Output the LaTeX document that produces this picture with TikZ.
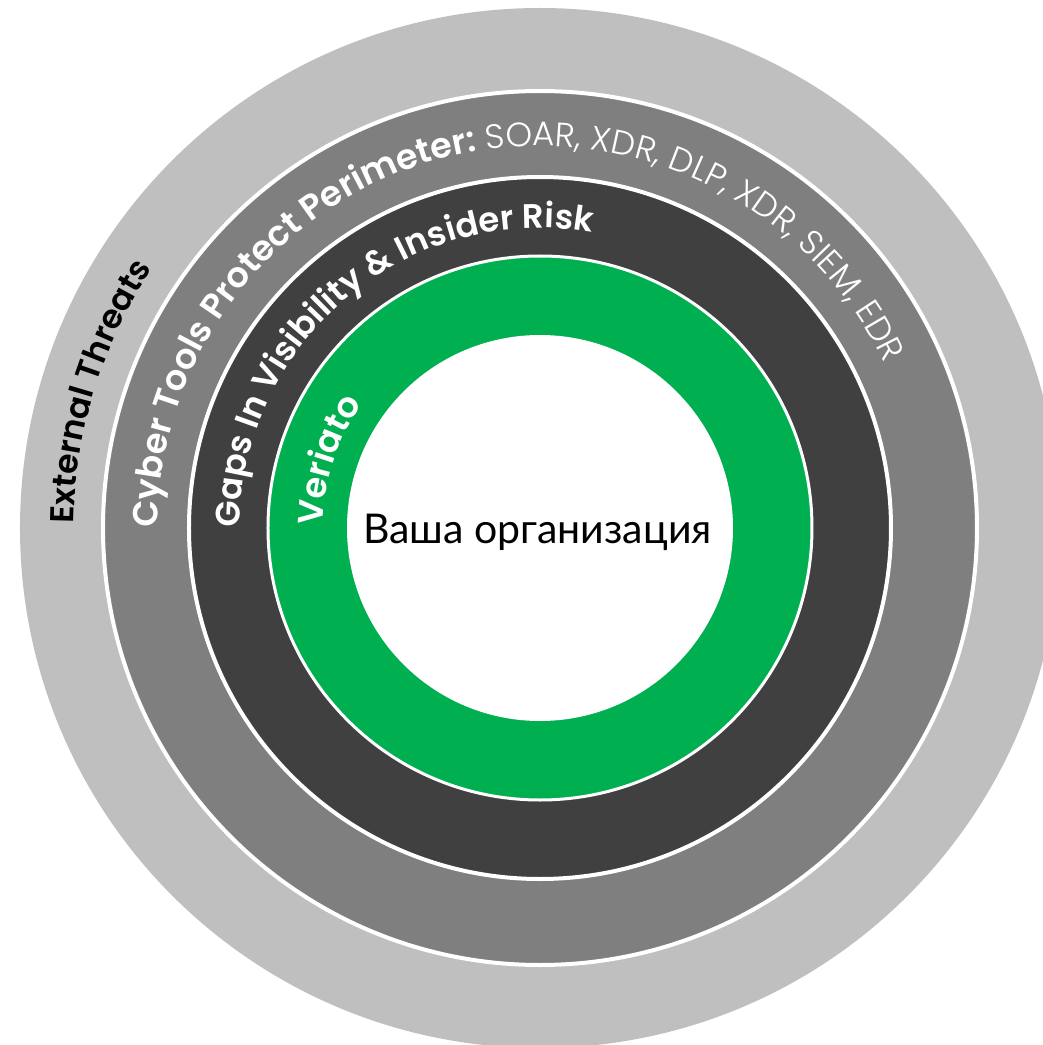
\documentclass[tikz,border=0pt]{standalone}
\usepackage{fontspec}
\setmainfont{Poppins}
\newfontfamily\semib{Poppins SemiBold}
\newfontfamily\lightf{Poppins Light}
\newfontfamily\orgfont{Lato}
\usetikzlibrary{decorations.text}
\definecolor{ringA}{HTML}{BFBFBF}
\definecolor{ringB}{HTML}{7F7F7F}
\definecolor{ringC}{HTML}{404040}
\definecolor{ringD}{HTML}{00B050}
\begin{document}
\begin{tikzpicture}[
  ringtext/.style={decorate, decoration={text along path, text align=left}},
  sepline/.style={draw=white, line width=4pt}
]
\useasboundingbox (-540pt,-517pt) rectangle (503pt,528pt);
\clip (-540pt,-517pt) rectangle (503pt,528pt);
\fill[white] (-540pt,-517pt) rectangle (503pt,528pt);
% rings
\path[fill=ringA] (0,0) circle[radius=520pt];
\path[fill=ringB, sepline] (0,0) circle[radius=437pt];
\path[fill=ringC, sepline] (0,0) circle[radius=351pt];
\path[fill=ringD, sepline, line width=3pt] (0,0) circle[radius=272pt];
\path[fill=white] (0,0) circle[radius=193pt];
% ring labels
\path[ringtext, decoration={text={|\fontsize{33}{40}\selectfont\semib\color{black}|External Threats}}]
  (179.5:466pt) arc[start angle=179.5, end angle=0, radius=466pt];
\path[ringtext, decoration={text={|\fontsize{35}{40}\selectfont\semib\color{white}|Cyber Tools Protect Perimeter:|\fontsize{34}{40}\selectfont\lightf\color{white}| SOAR, XDR, DLP, XDR, SIEM, EDR}}]
  (180:382pt) arc[start angle=180, end angle=-10, radius=382pt];
\path[ringtext, decoration={text={|\fontsize{34}{40}\selectfont\semib\color{white}|Gaps In Visibility {\&} Insider Risk}}]
  (180:300pt) arc[start angle=180, end angle=0, radius=300pt];
\path[ringtext, decoration={text={|\fontsize{35}{40}\selectfont\semib\color{white}|Veriato}}]
  (179.3:217pt) arc[start angle=179.3, end angle=0, radius=217pt];
% centre
\node[anchor=base, inner sep=0pt] (org) at (-2.5pt,-15pt) {\orgfont\fontsize{41}{48}\selectfont Ваша организация};
\end{tikzpicture}
\end{document}
